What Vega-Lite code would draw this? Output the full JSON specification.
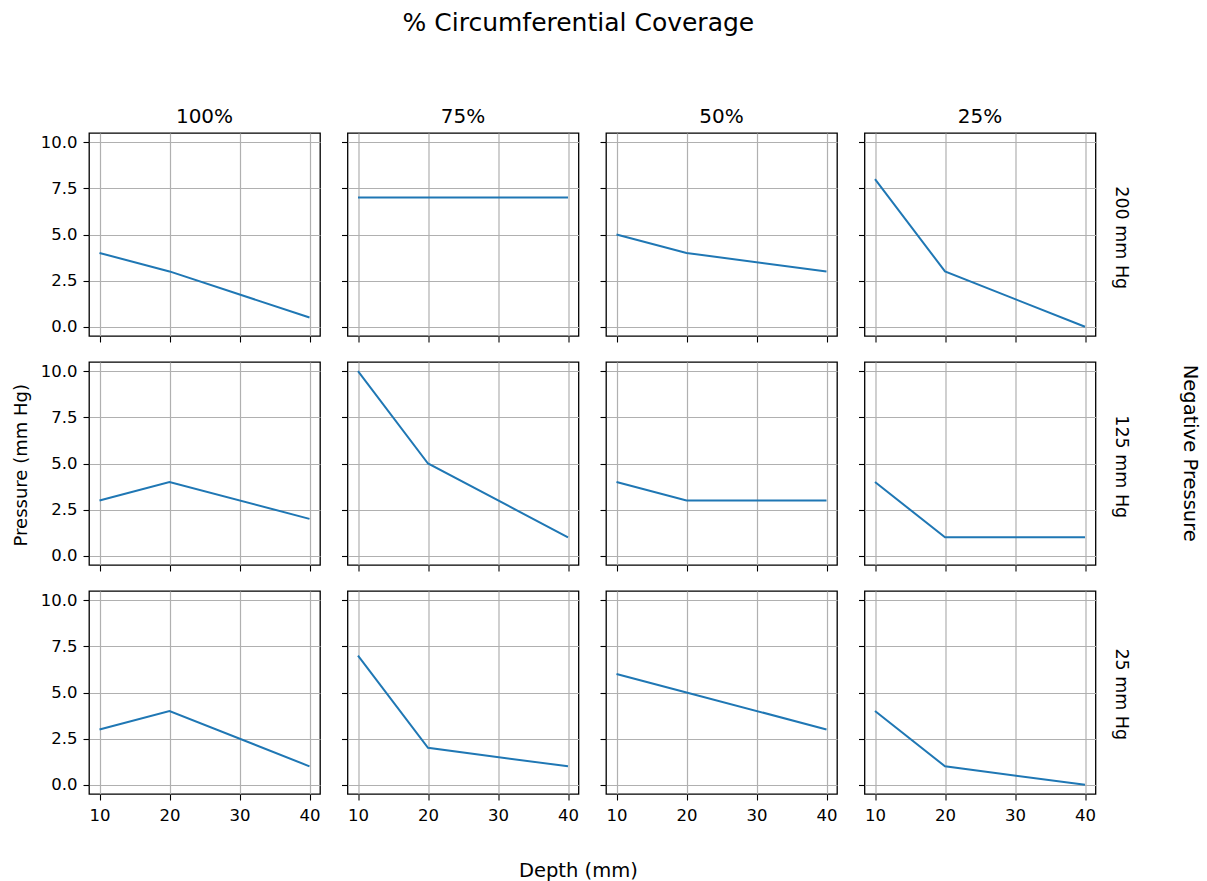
{
  "$schema": "https://vega.github.io/schema/vega-lite/v6.json",
  "padding": {"left": 12, "top": 11, "right": 5, "bottom": 2},
  "title": {"text": "% Circumferential Coverage", "fontSize": 25, "anchor": "middle", "offset": 70, "dx": -28},
  "datasets": {
    "d": [
      {"coverage": "100%", "pressure": "200 mm Hg", "depth": 10, "value": 4},
      {"coverage": "100%", "pressure": "200 mm Hg", "depth": 20, "value": 3},
      {"coverage": "100%", "pressure": "200 mm Hg", "depth": 40, "value": 0.5},
      {"coverage": "75%", "pressure": "200 mm Hg", "depth": 10, "value": 7},
      {"coverage": "75%", "pressure": "200 mm Hg", "depth": 20, "value": 7},
      {"coverage": "75%", "pressure": "200 mm Hg", "depth": 40, "value": 7},
      {"coverage": "50%", "pressure": "200 mm Hg", "depth": 10, "value": 5},
      {"coverage": "50%", "pressure": "200 mm Hg", "depth": 20, "value": 4},
      {"coverage": "50%", "pressure": "200 mm Hg", "depth": 40, "value": 3},
      {"coverage": "25%", "pressure": "200 mm Hg", "depth": 10, "value": 8},
      {"coverage": "25%", "pressure": "200 mm Hg", "depth": 20, "value": 3},
      {"coverage": "25%", "pressure": "200 mm Hg", "depth": 40, "value": 0},
      {"coverage": "100%", "pressure": "125 mm Hg", "depth": 10, "value": 3},
      {"coverage": "100%", "pressure": "125 mm Hg", "depth": 20, "value": 4},
      {"coverage": "100%", "pressure": "125 mm Hg", "depth": 40, "value": 2},
      {"coverage": "75%", "pressure": "125 mm Hg", "depth": 10, "value": 10},
      {"coverage": "75%", "pressure": "125 mm Hg", "depth": 20, "value": 5},
      {"coverage": "75%", "pressure": "125 mm Hg", "depth": 40, "value": 1},
      {"coverage": "50%", "pressure": "125 mm Hg", "depth": 10, "value": 4},
      {"coverage": "50%", "pressure": "125 mm Hg", "depth": 20, "value": 3},
      {"coverage": "50%", "pressure": "125 mm Hg", "depth": 40, "value": 3},
      {"coverage": "25%", "pressure": "125 mm Hg", "depth": 10, "value": 4},
      {"coverage": "25%", "pressure": "125 mm Hg", "depth": 20, "value": 1},
      {"coverage": "25%", "pressure": "125 mm Hg", "depth": 40, "value": 1},
      {"coverage": "100%", "pressure": "25 mm Hg", "depth": 10, "value": 3},
      {"coverage": "100%", "pressure": "25 mm Hg", "depth": 20, "value": 4},
      {"coverage": "100%", "pressure": "25 mm Hg", "depth": 40, "value": 1},
      {"coverage": "75%", "pressure": "25 mm Hg", "depth": 10, "value": 7},
      {"coverage": "75%", "pressure": "25 mm Hg", "depth": 20, "value": 2},
      {"coverage": "75%", "pressure": "25 mm Hg", "depth": 40, "value": 1},
      {"coverage": "50%", "pressure": "25 mm Hg", "depth": 10, "value": 6},
      {"coverage": "50%", "pressure": "25 mm Hg", "depth": 20, "value": 5},
      {"coverage": "50%", "pressure": "25 mm Hg", "depth": 40, "value": 3},
      {"coverage": "25%", "pressure": "25 mm Hg", "depth": 10, "value": 4},
      {"coverage": "25%", "pressure": "25 mm Hg", "depth": 20, "value": 1},
      {"coverage": "25%", "pressure": "25 mm Hg", "depth": 40, "value": 0}
    ]
  },
  "config": {
    "font": "DejaVu Sans",
    "view": {"stroke": "#000000", "strokeWidth": 1.3},
    "axis": {"domain": false, "grid": true, "gridColor": "#b0b0b0", "gridWidth": 1.2, "tickColor": "#000000", "tickSize": 6, "tickWidth": 1.1, "labelFont": "DejaVu Sans", "labelFontSize": 16.5, "labelColor": "#000000"},
    "axisX": {"labelPadding": 7},
    "axisY": {"labelPadding": 6},
    "title": {"font": "DejaVu Sans", "fontWeight": "normal", "color": "#000000"},
    "line": {"color": "#1f77b4", "strokeWidth": 2}
  },
  "vconcat": [
    {
      "title": {"text": "Depth (mm)", "orient": "bottom", "fontSize": 19.5, "anchor": "middle", "dx": -28, "offset": 38},
      "vconcat": [
        {
          "title": {"text": "Pressure (mm Hg)", "orient": "left", "fontSize": 18, "anchor": "middle", "offset": 9},
          "vconcat": [
            {
              "title": {"text": "Negative Pressure", "orient": "right", "fontSize": 19.5, "anchor": "middle", "offset": 50, "dx": -12},
              "spacing": 17,
              "vconcat": [
                {
                  "title": {"text": "200 mm Hg", "orient": "right", "fontSize": 17.5, "anchor": "middle", "offset": 16, "dx": 13},
                  "spacing": 18.5,
                  "hconcat": [
                    {"width": 231, "height": 203, "title": {"text": "100%", "fontSize": 20, "offset": 6}, "data": {"name": "d"}, "transform": [{"filter": "datum.coverage == '100%' && datum.pressure == '200 mm Hg'"}], "mark": {"type": "line"},
                     "encoding": {"x": {"field": "depth", "type": "quantitative", "scale": {"domain": [8.5, 41.5], "nice": false, "zero": false}, "axis": {"values": [10, 20, 30, 40], "labels": false, "title": null}},
                                  "y": {"field": "value", "type": "quantitative", "scale": {"domain": [-0.5, 10.5], "nice": false, "zero": false}, "axis": {"values": [0, 2.5, 5, 7.5, 10], "format": ".1f", "labels": true, "title": null}}}},
                    {"width": 231, "height": 203, "title": {"text": "75%", "fontSize": 20, "offset": 6}, "data": {"name": "d"}, "transform": [{"filter": "datum.coverage == '75%' && datum.pressure == '200 mm Hg'"}], "mark": {"type": "line"},
                     "encoding": {"x": {"field": "depth", "type": "quantitative", "scale": {"domain": [8.5, 41.5], "nice": false, "zero": false}, "axis": {"values": [10, 20, 30, 40], "labels": false, "title": null}},
                                  "y": {"field": "value", "type": "quantitative", "scale": {"domain": [-0.5, 10.5], "nice": false, "zero": false}, "axis": {"values": [0, 2.5, 5, 7.5, 10], "labels": false, "title": null}}}},
                    {"width": 231, "height": 203, "title": {"text": "50%", "fontSize": 20, "offset": 6}, "data": {"name": "d"}, "transform": [{"filter": "datum.coverage == '50%' && datum.pressure == '200 mm Hg'"}], "mark": {"type": "line"},
                     "encoding": {"x": {"field": "depth", "type": "quantitative", "scale": {"domain": [8.5, 41.5], "nice": false, "zero": false}, "axis": {"values": [10, 20, 30, 40], "labels": false, "title": null}},
                                  "y": {"field": "value", "type": "quantitative", "scale": {"domain": [-0.5, 10.5], "nice": false, "zero": false}, "axis": {"values": [0, 2.5, 5, 7.5, 10], "labels": false, "title": null}}}},
                    {"width": 231, "height": 203, "title": {"text": "25%", "fontSize": 20, "offset": 6}, "data": {"name": "d"}, "transform": [{"filter": "datum.coverage == '25%' && datum.pressure == '200 mm Hg'"}], "mark": {"type": "line"},
                     "encoding": {"x": {"field": "depth", "type": "quantitative", "scale": {"domain": [8.5, 41.5], "nice": false, "zero": false}, "axis": {"values": [10, 20, 30, 40], "labels": false, "title": null}},
                                  "y": {"field": "value", "type": "quantitative", "scale": {"domain": [-0.5, 10.5], "nice": false, "zero": false}, "axis": {"values": [0, 2.5, 5, 7.5, 10], "labels": false, "title": null}}}}
                  ]
                },
                {
                  "title": {"text": "125 mm Hg", "orient": "right", "fontSize": 17.5, "anchor": "middle", "offset": 16},
                  "spacing": 18.5,
                  "hconcat": [
                    {"width": 231, "height": 203, "data": {"name": "d"}, "transform": [{"filter": "datum.coverage == '100%' && datum.pressure == '125 mm Hg'"}], "mark": {"type": "line"},
                     "encoding": {"x": {"field": "depth", "type": "quantitative", "scale": {"domain": [8.5, 41.5], "nice": false, "zero": false}, "axis": {"values": [10, 20, 30, 40], "labels": false, "title": null}},
                                  "y": {"field": "value", "type": "quantitative", "scale": {"domain": [-0.5, 10.5], "nice": false, "zero": false}, "axis": {"values": [0, 2.5, 5, 7.5, 10], "format": ".1f", "labels": true, "title": null}}}},
                    {"width": 231, "height": 203, "data": {"name": "d"}, "transform": [{"filter": "datum.coverage == '75%' && datum.pressure == '125 mm Hg'"}], "mark": {"type": "line"},
                     "encoding": {"x": {"field": "depth", "type": "quantitative", "scale": {"domain": [8.5, 41.5], "nice": false, "zero": false}, "axis": {"values": [10, 20, 30, 40], "labels": false, "title": null}},
                                  "y": {"field": "value", "type": "quantitative", "scale": {"domain": [-0.5, 10.5], "nice": false, "zero": false}, "axis": {"values": [0, 2.5, 5, 7.5, 10], "labels": false, "title": null}}}},
                    {"width": 231, "height": 203, "data": {"name": "d"}, "transform": [{"filter": "datum.coverage == '50%' && datum.pressure == '125 mm Hg'"}], "mark": {"type": "line"},
                     "encoding": {"x": {"field": "depth", "type": "quantitative", "scale": {"domain": [8.5, 41.5], "nice": false, "zero": false}, "axis": {"values": [10, 20, 30, 40], "labels": false, "title": null}},
                                  "y": {"field": "value", "type": "quantitative", "scale": {"domain": [-0.5, 10.5], "nice": false, "zero": false}, "axis": {"values": [0, 2.5, 5, 7.5, 10], "labels": false, "title": null}}}},
                    {"width": 231, "height": 203, "data": {"name": "d"}, "transform": [{"filter": "datum.coverage == '25%' && datum.pressure == '125 mm Hg'"}], "mark": {"type": "line"},
                     "encoding": {"x": {"field": "depth", "type": "quantitative", "scale": {"domain": [8.5, 41.5], "nice": false, "zero": false}, "axis": {"values": [10, 20, 30, 40], "labels": false, "title": null}},
                                  "y": {"field": "value", "type": "quantitative", "scale": {"domain": [-0.5, 10.5], "nice": false, "zero": false}, "axis": {"values": [0, 2.5, 5, 7.5, 10], "labels": false, "title": null}}}}
                  ]
                },
                {
                  "title": {"text": "25 mm Hg", "orient": "right", "fontSize": 17.5, "anchor": "middle", "offset": 16, "dx": -13},
                  "spacing": 18.5,
                  "hconcat": [
                    {"width": 231, "height": 203, "data": {"name": "d"}, "transform": [{"filter": "datum.coverage == '100%' && datum.pressure == '25 mm Hg'"}], "mark": {"type": "line"},
                     "encoding": {"x": {"field": "depth", "type": "quantitative", "scale": {"domain": [8.5, 41.5], "nice": false, "zero": false}, "axis": {"values": [10, 20, 30, 40], "format": "d", "labels": true, "title": null}},
                                  "y": {"field": "value", "type": "quantitative", "scale": {"domain": [-0.5, 10.5], "nice": false, "zero": false}, "axis": {"values": [0, 2.5, 5, 7.5, 10], "format": ".1f", "labels": true, "title": null}}}},
                    {"width": 231, "height": 203, "data": {"name": "d"}, "transform": [{"filter": "datum.coverage == '75%' && datum.pressure == '25 mm Hg'"}], "mark": {"type": "line"},
                     "encoding": {"x": {"field": "depth", "type": "quantitative", "scale": {"domain": [8.5, 41.5], "nice": false, "zero": false}, "axis": {"values": [10, 20, 30, 40], "format": "d", "labels": true, "title": null}},
                                  "y": {"field": "value", "type": "quantitative", "scale": {"domain": [-0.5, 10.5], "nice": false, "zero": false}, "axis": {"values": [0, 2.5, 5, 7.5, 10], "labels": false, "title": null}}}},
                    {"width": 231, "height": 203, "data": {"name": "d"}, "transform": [{"filter": "datum.coverage == '50%' && datum.pressure == '25 mm Hg'"}], "mark": {"type": "line"},
                     "encoding": {"x": {"field": "depth", "type": "quantitative", "scale": {"domain": [8.5, 41.5], "nice": false, "zero": false}, "axis": {"values": [10, 20, 30, 40], "format": "d", "labels": true, "title": null}},
                                  "y": {"field": "value", "type": "quantitative", "scale": {"domain": [-0.5, 10.5], "nice": false, "zero": false}, "axis": {"values": [0, 2.5, 5, 7.5, 10], "labels": false, "title": null}}}},
                    {"width": 231, "height": 203, "data": {"name": "d"}, "transform": [{"filter": "datum.coverage == '25%' && datum.pressure == '25 mm Hg'"}], "mark": {"type": "line"},
                     "encoding": {"x": {"field": "depth", "type": "quantitative", "scale": {"domain": [8.5, 41.5], "nice": false, "zero": false}, "axis": {"values": [10, 20, 30, 40], "format": "d", "labels": true, "title": null}},
                                  "y": {"field": "value", "type": "quantitative", "scale": {"domain": [-0.5, 10.5], "nice": false, "zero": false}, "axis": {"values": [0, 2.5, 5, 7.5, 10], "labels": false, "title": null}}}}
                  ]
                }
              ]
            }
          ]
        }
      ]
    }
  ]
}
